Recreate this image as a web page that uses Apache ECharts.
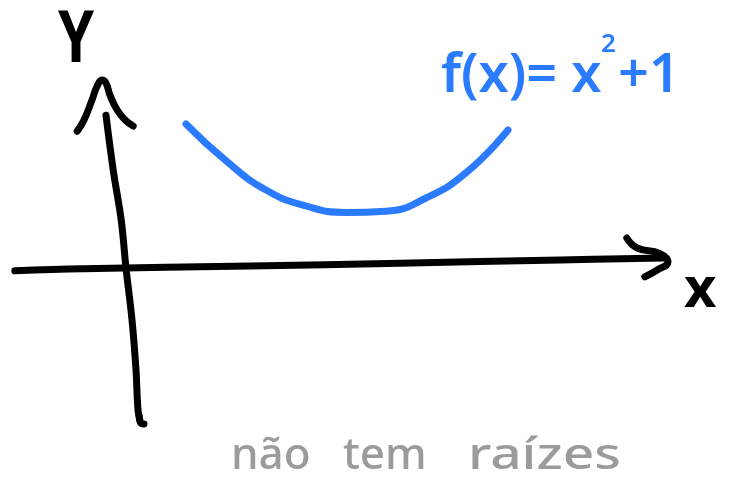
<!DOCTYPE html>
<html>
<head>
<meta charset="utf-8">
<title>f(x) = x² + 1</title>
<script src="https://cdn.jsdelivr.net/npm/echarts@6/dist/echarts.min.js"></script>
<style>
  html, body { margin: 0; padding: 0; background: #ffffff; }
  #chart { width: 734px; height: 501px; }
</style>
</head>
<body>
<div id="chart"></div>
<script>
// Sketch of f(x) = x^2 + 1 over hand-drawn axes (plot units, origin where the axes cross)

// hand-drawn horizontal axis stroke
const xAxisStroke = [[-2.78, -0.07], [-1.08, -0.02], [3.1, 0.05], [6.85, 0.12], [10.85, 0.2], [13.45, 0.25]];
// arrowhead at the right end of the horizontal axis
const xArrowHead = [[12.52, 0.75], [12.78, 0.5], [13.35, 0.36], [13.55, 0.15], [13.28, -0.05], [12.97, -0.22]];
// hand-drawn vertical axis stroke
const yAxisStroke = [[-0.5, 3.82], [-0.32, 2.45], [-0.12, 1.2], [0, 0], [0.15, -1.3], [0.25, -2.55], [0.3, -3.55], [0.35, -3.82]];
// small hook at its bottom end
const yAxisHook = [[0.33, -3.7], [0.36, -3.86], [0.45, -3.9]];
// arrowhead at the top of the vertical axis
const yArrowHead = [[-1.22, 3.42], [-1.05, 3.7], [-0.85, 4.2], [-0.72, 4.55], [-0.6, 4.7], [-0.5, 4.62], [-0.4, 4.32], [-0.22, 3.95], [-0.02, 3.7], [0.18, 3.55]];
// the parabola, as sketched
const curvePoints = [[1.5, 3.6], [2.5, 2.68], [3.5, 1.95], [4.5, 1.55], [5.5, 1.39], [6.5, 1.42], [7.5, 1.75], [8.5, 2.38], [9.55, 3.45]];

// labels
const axisNameX = 'x';
const axisNameY = 'Y';
const formulaMain = 'f(x)= x';
const formulaExp = '2';
const formulaTail = '+1';
const captionWords = ['não', 'tem', 'raízes'];

const INK = '#000000';
const BLUE = '#2a7bff';
const GRAY = '#9b9b9b';
const FONT = '"Noto Sans", sans-serif';

const chart = echarts.init(document.getElementById('chart'), null, { renderer: 'canvas' });

function stroke(name, data, color, width, smooth) {
  return {
    name: name,
    type: 'line',
    data: data,
    smooth: smooth,
    symbol: 'none',
    silent: true,
    animation: false,
    lineStyle: { color: color, width: width, cap: 'round', join: 'round' },
    z: 2
  };
}

chart.setOption({
  backgroundColor: '#ffffff',
  animation: false,
  grid: { left: 0, right: 0, top: 0, bottom: 0 },
  xAxis: { type: 'value', min: -3.15, max: 15.2, show: false },
  yAxis: { type: 'value', min: -5.825, max: 6.7, show: false },
  series: [
    stroke('x axis', xAxisStroke, INK, 7, 0.4),
    stroke('x arrow', xArrowHead, INK, 7, 0.5),
    stroke('y axis', yAxisStroke, INK, 7, 0.4),
    stroke('y hook', yAxisHook, INK, 7, 0.5),
    stroke('y arrow', yArrowHead, INK, 7, 0.5),
    stroke('f(x)', curvePoints, BLUE, 7, 0.5)
  ],
  graphic: [
    { type: 'text', left: 58, top: 5, scaleX: 0.8,
      style: { text: axisNameY, fill: INK, font: 'bold 72px ' + FONT } },
    { type: 'text', left: 684, top: 263,
      style: { text: axisNameX, fill: INK, font: 'bold 56px ' + FONT } },
    { type: 'text', left: 441, top: 50,
      style: { text: formulaMain, fill: BLUE, font: '600 54px ' + FONT } },
    { type: 'text', left: 601, top: 32,
      style: { text: formulaExp, fill: BLUE, font: '600 26px ' + FONT } },
    { type: 'text', left: 618, top: 50,
      style: { text: formulaTail, fill: BLUE, font: '600 54px ' + FONT } },
    { type: 'text', left: 231, top: 434,
      style: { text: captionWords[0], fill: GRAY, font: '500 44px ' + FONT } },
    { type: 'text', left: 343, top: 434,
      style: { text: captionWords[1], fill: GRAY, font: '500 44px ' + FONT } },
    { type: 'text', left: 468, top: 434, scaleX: 1.25,
      style: { text: captionWords[2], fill: GRAY, font: '500 44px ' + FONT } }
  ]
});
</script>
</body>
</html>
